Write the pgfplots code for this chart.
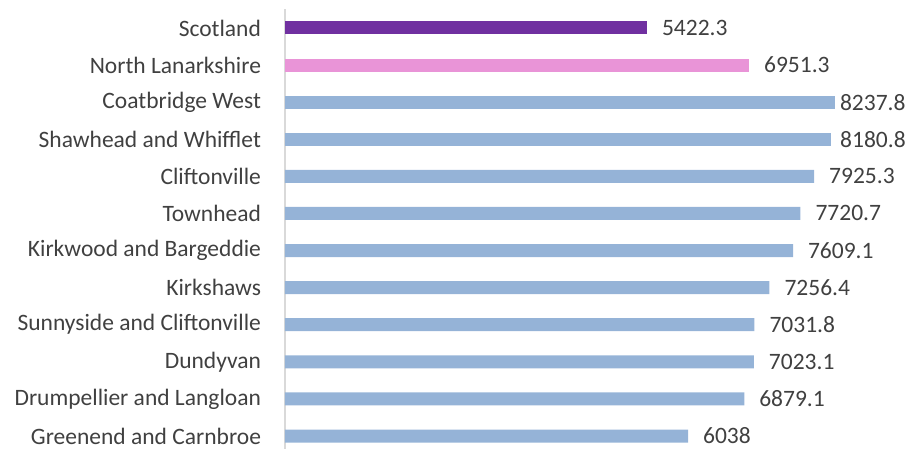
\documentclass[border=0pt]{standalone}
\usepackage{fontspec}
\setmainfont{Carlito}
\usepackage{pgfplots}
\usepackage{pgfplotstable}
\pgfplotsset{compat=1.18}
\definecolor{scot}{HTML}{7030A0}
\definecolor{nlan}{HTML}{E994D7}
\definecolor{ward}{HTML}{95B3D7}
\definecolor{txt}{HTML}{404040}
\definecolor{axl}{HTML}{D9D9D9}
\pgfplotstableread{
y x lab
11 5422.3 5422.3
}\scot
\pgfplotstableread{
y x lab
10 6951.3 6951.3
}\nlan
\pgfplotstableread{
y x lab
9 8237.8 8237.8
}\wardA
\pgfplotstableread{
y x lab
8 8180.8 8180.8
}\wardB
\pgfplotstableread{
y x lab
7 7925.3 7925.3
6 7720.7 7720.7
5 7609.1 7609.1
4 7256.4 7256.4
3 7031.8 7031.8
2 7023.1 7023.1
1 6879.1 6879.1
0 6038 6038
}\wards
\begin{document}
\fontsize{23.5bp}{28bp}\selectfont
\begin{tikzpicture}
\path[use as bounding box] (-285bp,0) rectangle (626bp,449bp);
\begin{axis}[
  at={(0,0)}, anchor=south west, scale only axis,
  width=600.9bp, height=439.6bp,
  xmin=0, xmax=9000, ymin=-0.35, ymax=11.5,
  xbar, bar width=13bp, bar shift=0pt,
  axis x line=none, axis y line=left,
  y axis line style={draw=axl, line width=1.5bp, -},
  ytick={0,...,11},
  yticklabels={Greenend and Carnbroe, Drumpellier and Langloan, Dundyvan, Sunnyside and Cliftonville, Kirkshaws, Kirkwood and Bargeddie, Townhead, Cliftonville, Shawhead and Whifflet, Coatbridge West, North Lanarkshire, Scotland},
  major tick length=0,
  yticklabel style={text=txt, font=\fontsize{23.5bp}{28bp}\selectfont, xshift=-16bp},
  nodes near coords, point meta=explicit symbolic,
  every node near coord/.append style={anchor=west, text=txt, font=\fontsize{23.5bp}{28bp}\selectfont},
  clip=false,
]
\addplot[draw=none, fill=scot, nodes near coords style={xshift=7bp}] table[x=x, y=y, meta=lab] {\scot};
\addplot[draw=none, fill=nlan, nodes near coords style={xshift=7bp}] table[x=x, y=y, meta=lab] {\nlan};
\addplot[draw=none, fill=ward, nodes near coords style={xshift=-3bp}] table[x=x, y=y, meta=lab] {\wardA};
\addplot[draw=none, fill=ward, nodes near coords style={xshift=1bp}] table[x=x, y=y, meta=lab] {\wardB};
\addplot[draw=none, fill=ward, nodes near coords style={xshift=7bp}] table[x=x, y=y, meta=lab] {\wards};
\end{axis}
\end{tikzpicture}
\end{document}
